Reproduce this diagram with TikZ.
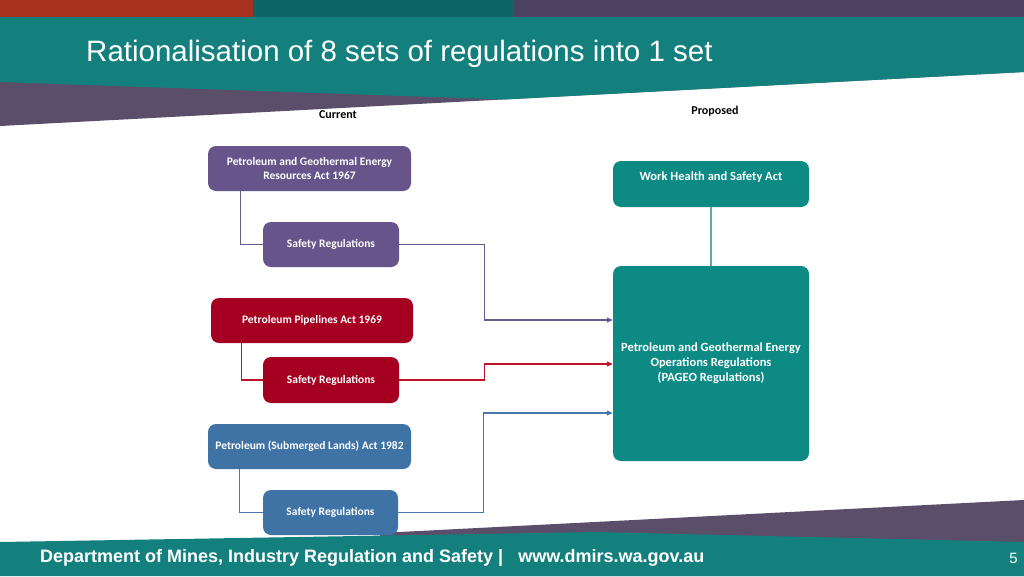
\documentclass[tikz,border=0pt]{standalone}
\usepackage{fontspec}
\setmainfont{Carlito}
\newfontfamily\arialf{Liberation Sans}
\usetikzlibrary{arrows.meta,calc}
\definecolor{barred}{RGB}{168,50,30}
\definecolor{bartealdk}{RGB}{14,100,102}
\definecolor{barpurp}{RGB}{78,66,99}
\definecolor{bandteal}{RGB}{19,128,126}
\definecolor{bandpurp}{RGB}{90,78,106}
\definecolor{boxpurp}{RGB}{103,84,138}
\definecolor{boxred}{RGB}{165,0,33}
\definecolor{boxblue}{RGB}{63,115,165}
\definecolor{boxteal}{RGB}{14,138,133}
\definecolor{lnpurp}{RGB}{100,90,140}
\definecolor{lnred}{RGB}{190,20,40}
\definecolor{lnblue}{RGB}{70,120,170}
\definecolor{lnteal}{RGB}{90,170,170}
\tikzset{
  regbox/.style={rounded corners=8pt, inner sep=2pt, align=center, text=white,
    font=\bfseries\fontsize{11.5}{14}\selectfont},
  conn/.style={line width=1.1pt},
  arr/.style={conn, -{Triangle[length=6pt,width=5pt]}},
  collabel/.style={font=\bfseries\fontsize{12}{14}\selectfont, text=black}
}
\begin{document}
\begin{tikzpicture}[x=1pt,y=-1pt]
\useasboundingbox (0,0) rectangle (1024,576);
\fill[white] (0,0) rectangle (1024,576);
% header
\fill[bandpurp] (0,17) -- (1024,17) -- (1024,72) -- (0,126) -- cycle;
\fill[bandteal] (0,17) -- (1024,17) -- (1024,72) -- (505,99.5) -- (0,82) -- cycle;
\fill[barred] (0,0) rectangle (253,17);
\fill[bartealdk] (253,0) rectangle (513,17);
\fill[barpurp] (513,0) rectangle (1024,17);
\node[anchor=west, inner sep=0pt, text=white, font=\arialf\fontsize{29.5}{34}\selectfont] (title) at (86,54) {Rationalisation of 8 sets of regulations into 1 set};
% footer
\fill[bandpurp] (380,533) -- (1024,500) -- (1024,576) -- (380,576) -- cycle;
\fill[bandteal] (0,542) -- (596,532) -- (1024,542) -- (1024,576) -- (0,576) -- cycle;
\node[anchor=west, inner sep=0pt, text=white, font=\arialf\bfseries\fontsize{18}{21}\selectfont] (foot) at (40,558) {Department of Mines, Industry Regulation and Safety |\ \ \ www.dmirs.wa.gov.au};
\node[anchor=east, inner sep=0pt, text=white, font=\arialf\fontsize{15}{18}\selectfont] (pg) at (1018,558) {5};
% labels
\node[collabel] (cur) at (338,115) {Current};
\node[collabel] (prop) at (715,111) {Proposed};
% boxes
\node[regbox, fill=boxpurp, minimum width=203pt, minimum height=45pt] (pger) at (309.5,168.5) {Petroleum and Geothermal Energy\\Resources Act 1967};
\node[regbox, fill=boxpurp, minimum width=136pt, minimum height=45pt] (sr1) at (331,244.5) {Safety Regulations};
\node[regbox, fill=boxred, minimum width=202pt, minimum height=45pt] (ppa) at (312,320.5) {Petroleum Pipelines Act 1969};
\node[regbox, fill=boxred, minimum width=136pt, minimum height=46pt] (sr2) at (331,380) {Safety Regulations};
\node[regbox, fill=boxblue, minimum width=203pt, minimum height=45pt] (sla) at (309.5,446.5) {Petroleum (Submerged Lands) Act 1982};
\node[regbox, fill=boxblue, minimum width=135pt, minimum height=45pt] (sr3) at (330.5,512.5) {Safety Regulations};
\node[regbox, fill=boxteal, minimum width=196pt, minimum height=46pt, text depth=16pt, font=\bfseries\fontsize{12.5}{15}\selectfont] (whs) at (711,184) {Work Health and Safety Act};
\node[regbox, fill=boxteal, minimum width=196pt, minimum height=195pt, font=\bfseries\fontsize{12.5}{15}\selectfont] (pageo) at (711,363.5) {Petroleum and Geothermal Energy\\Operations Regulations\\(PAGEO Regulations)};
% connector end points
\coordinate (in1) at ($(pageo.west)+(0,-43.5)$);
\coordinate (in2) at ($(pageo.west)+(0,0.5)$);
\coordinate (in3) at ($(pageo.west)+(0,49.5)$);
% connectors
\draw[conn, lnpurp] ($(pger.south west)+(33,0)$) |- (sr1.west);
\draw[conn, lnred] ($(ppa.south west)+(31,0)$) |- (sr2.west);
\draw[conn, lnblue] ($(sla.south west)+(32,0)$) |- (sr3.west);
\draw[arr, lnpurp] (sr1.east) -- ++(85,0) |- (in1);
\draw[arr, lnred] (sr2.east) -- ++(85,0) |- (in2);
\draw[arr, lnblue] (sr3.east) -- ++(85.5,0) |- (in3);
\draw[conn, lnteal] (whs.south) -- (pageo.north);
\end{tikzpicture}
\end{document}
